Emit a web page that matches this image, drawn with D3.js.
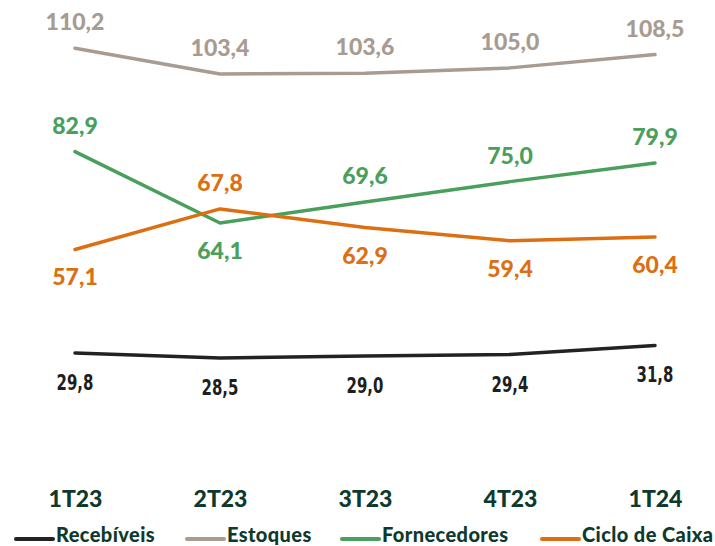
<!DOCTYPE html>
<html><head><meta charset="utf-8">
<script src="https://cdn.jsdelivr.net/npm/d3@7"></script>
<style>html,body{margin:0;padding:0;background:#fff;}svg{display:block;}</style>
</head><body>
<svg id="chart" width="715" height="546"></svg>
<script>
const categories = ["1T23","2T23","3T23","4T23","1T24"];
const recebiveis = [29.8, 28.5, 29.0, 29.4, 31.8];
const estoques = [110.2, 103.4, 103.6, 105.0, 108.5];
const fornecedores = [82.9, 64.1, 69.6, 75.0, 79.9];
const cicloCaixa = [57.1, 67.8, 62.9, 59.4, 60.4];
const seriesNames = ["Recebíveis","Estoques","Fornecedores","Ciclo de Caixa"];

const colors = ["#222222","#a89b91","#4a9f5c","#dc6f12"];
const labelColors = ["#1e1e1e","#a89b91","#4a9f5c","#dc6f12"];
const labelSide = [
  ["below","below","below","below","below"],
  ["above","above","above","above","above"],
  ["above","below","above","above","above"],
  ["below","above","below","below","below"]
];
const allSeries = [recebiveis, estoques, fornecedores, cicloCaixa];

const svg = d3.select("#chart");
const x = d3.scalePoint().domain(categories).range([75, 655]);
const y = d3.scaleLinear().domain([0, 120]).range([466, 11]);
const fmt = v => d3.format(".1f")(v).replace(".", ",");

const line = d3.line().x((d,i)=>x(categories[i])).y(d=>y(d));

[1,2,3,0].forEach(si=>{
  svg.append("path").datum(allSeries[si])
    .attr("d", line).attr("fill","none")
    .attr("stroke", colors[si]).attr("stroke-width", 3.5)
    .attr("stroke-linejoin","round").attr("stroke-linecap","round");
});

allSeries.forEach((vals, si)=>{
  const t = svg.append("g").selectAll("text").data(vals).join("text")
    .attr("text-anchor","middle")
    .attr("fill", labelColors[si])
    .text(d=>fmt(d));
  if (si===0) {
    t.attr("transform",(d,i)=>`translate(${x(categories[i])},${y(d)+37}) scale(0.68,1)`)
     .style("font-family","'DejaVu Sans', sans-serif")
     .style("font-weight",700).style("font-size","22px");
  } else {
    t.attr("x",(d,i)=>x(categories[i]))
     .attr("y",(d,i)=> labelSide[si][i]==="above" ? y(d)-18 : y(d)+36)
     .style("font-family","Lato, sans-serif").style("font-weight",900).style("font-size","23px");
  }
});

const xAxis = d3.axisBottom(x).tickSize(0).tickPadding(0);
const gx = svg.append("g").attr("transform","translate(0,490)").call(xAxis);
gx.select(".domain").remove();
gx.selectAll("text")
  .attr("dy", 0).attr("y", 17)
  .attr("fill","#0e3a2d")
  .style("font-family","Lato, sans-serif")
  .style("font-weight",900)
  .style("font-size","23px");

const legendX = [16, 187, 342, 542];
const lg = svg.append("g");
seriesNames.forEach((name, si)=>{
  const g = lg.append("g").attr("transform",`translate(${legendX[si]},539)`);
  g.append("line").attr("x1",0).attr("x2",37).attr("y1",0).attr("y2",0)
    .attr("stroke",colors[si]).attr("stroke-width",4).attr("stroke-linecap","round");
  g.append("text").attr("x",40).attr("y",3)
    .attr("fill","#0e3a2d")
    .style("font-family","Lato, sans-serif").style("font-weight",900).style("font-size","20px")
    .style("letter-spacing","0.4px")
    .text(name);
});
</script>
</body></html>
